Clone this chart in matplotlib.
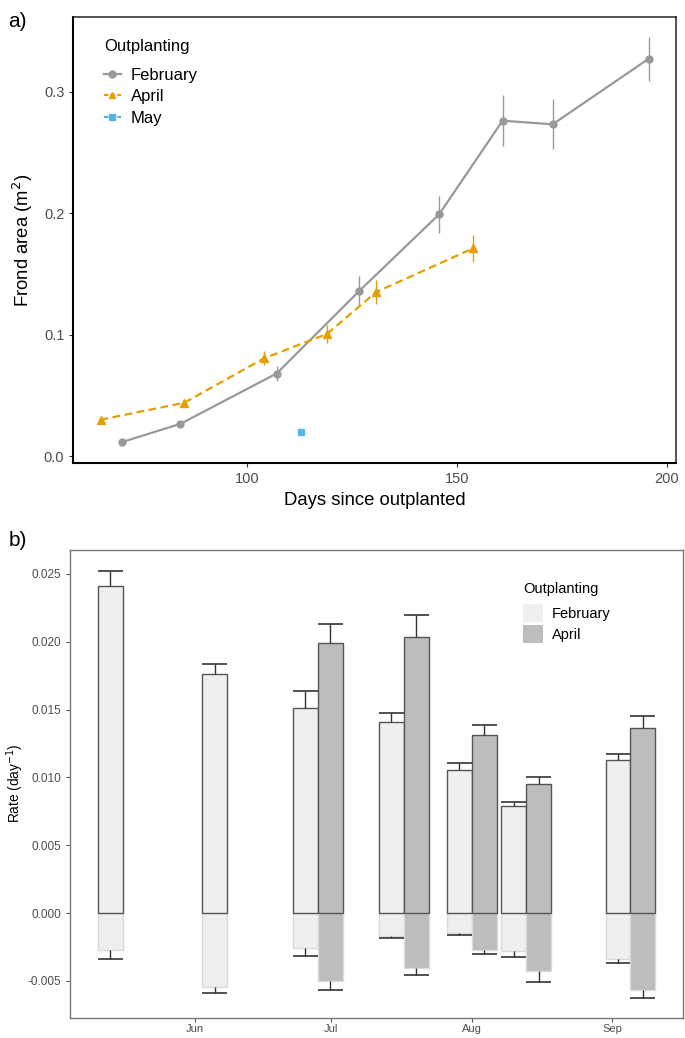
import numpy as np
import matplotlib
matplotlib.use("Agg")
import matplotlib.pyplot as plt
import matplotlib.dates as mdates
from matplotlib.lines import Line2D
from matplotlib.patches import Patch

plt.rcParams['font.family'] = ['Liberation Sans', 'DejaVu Sans']

# ---- panel a data: frond area by days since outplanting ----
feb_days = [70.2, 84.2, 107.1, 126.8, 145.8, 160.9, 172.8, 195.7]
feb_area = [0.0115, 0.0266, 0.068, 0.136, 0.199, 0.276, 0.273, 0.327]
feb_se = [0.001, 0.0012, 0.006, 0.012, 0.015, 0.021, 0.0205, 0.018]

apr_days = [65.2, 85.1, 104.1, 119.1, 130.8, 153.9]
apr_area = [0.030, 0.0439, 0.0805, 0.1006, 0.135, 0.171]
apr_se = [0.0018, 0.002, 0.0057, 0.0073, 0.010, 0.011]

may_days = [113.0]
may_area = [0.020]
may_se = [0.002]

# ---- panel b data: growth (+) and loss (-) rates per sampling ----
sample_dates = ["2018-05-16", "2018-06-08", "2018-06-28", "2018-07-17",
                "2018-08-01", "2018-08-13", "2018-09-05"]
feb_growth = [0.0241, 0.01765, 0.0151, 0.0141, 0.01056, 0.00787, 0.0113]
feb_growth_se = [0.00114, 0.0007, 0.00125, 0.00065, 0.0005, 0.0003, 0.00046]
feb_loss = [-0.00275, -0.00544, -0.00257, -0.00168, -0.00147, -0.0028, -0.00338]
feb_loss_se = [0.00063, 0.00044, 0.00057, 0.00017, 0.00017, 0.00041, 0.0003]
apr_growth = [np.nan, np.nan, 0.01993, 0.02032, 0.01311, 0.00954, 0.01363]
apr_growth_se = [np.nan, np.nan, 0.00141, 0.00168, 0.00076, 0.00048, 0.00093]
apr_loss = [np.nan, np.nan, -0.0050, -0.00407, -0.0027, -0.00426, -0.00564]
apr_loss_se = [np.nan, np.nan, 0.0007, 0.00047, 0.0003, 0.00086, 0.0006]

C_FEB = '#999999'
C_APR = '#E69F00'
C_MAY = '#56B4E9'
F_FEB = '#EFEFEF'
F_APR = '#BDBDBD'

fig = plt.figure(figsize=(6.85, 10.38), dpi=100)

# ================= panel a =================
ax = fig.add_axes([0.107, 0.5535, 0.880, 0.4306])
ax.errorbar(feb_days, feb_area, yerr=feb_se, color=C_FEB, lw=1.6, marker='o',
            ms=5, elinewidth=1.0, capsize=0, label='February')
ax.errorbar(apr_days, apr_area, yerr=apr_se, color=C_APR, lw=1.6, ls=(0, (3.5, 2)),
            marker='^', ms=6, elinewidth=1.0, capsize=0, label='April')
ax.errorbar(may_days, may_area, yerr=may_se, color=C_MAY, lw=1.6, marker='s',
            ms=4.5, elinewidth=1.0, capsize=0, label='May')

ax.set_xticks([100, 150, 200])
ax.set_xticks([75, 125, 175], minor=True)
ax.set_yticks([0.0, 0.1, 0.2, 0.3])
ax.yaxis.set_major_formatter(matplotlib.ticker.FormatStrFormatter('%.1f'))
ax.tick_params(which='minor', length=0)
ax.tick_params(which='major', length=3, color='#333333', labelsize=10.5,
               labelcolor='#4d4d4d')
ax.set_xlim(58.7, 202.2)
ax.set_ylim(-0.006, 0.3617)
for s in ['left', 'bottom']:
    ax.spines[s].set_linewidth(1.5)
    ax.spines[s].set_color('black')
for s in ['top', 'right']:
    ax.spines[s].set_linewidth(1.1)
    ax.spines[s].set_color('#222222')
ax.set_xlabel('Days since outplanted', fontsize=13.3, labelpad=4)
ax.set_ylabel('Frond area (m$^2$)', fontsize=13.3, labelpad=6)

handles = [Line2D([], [], color=C_FEB, lw=1.6, marker='o', ms=5),
           Line2D([], [], color=C_APR, lw=1.6, ls=(0, (2, 1)), marker='^', ms=5),
           Line2D([], [], color=C_MAY, lw=1.6, ls=(0, (2, 1)), marker='s', ms=4.5)]
leg = ax.legend(handles, ['February', 'April', 'May'], title='Outplanting',
                loc='upper left', bbox_to_anchor=(0.026, 0.984), frameon=False,
                fontsize=12, title_fontsize=12, handlelength=1.0,
                handletextpad=0.6, labelspacing=0.4)
leg._legend_box.align = 'left'
leg._legend_box.sep = 10

fig.text(0.012, 0.988, 'a)', fontsize=15, va='top', ha='left')

# ================= panel b =================
bx = fig.add_axes([0.1022, 0.0195, 0.8953, 0.4511])
xc = mdates.datestr2num(sample_dates)
bw = 5.5
x_feb = xc - bw / 2
x_apr = xc + bw / 2

def draw_bars(x, vals, err, fill, edge, down):
    vals = np.asarray(vals, float)
    err = np.asarray(err, float)
    ok = ~np.isnan(vals)
    x, vals, err = x[ok], vals[ok], err[ok]
    bx.bar(x, vals, width=bw, color=fill, edgecolor=edge, linewidth=1.0, zorder=2)
    tip = vals - err if down else vals + err
    bx.vlines(x, vals, tip, color='#333333', lw=1.0, zorder=3)
    bx.hlines(tip, x - bw / 2, x + bw / 2, color='#333333', lw=1.2, zorder=3)

draw_bars(x_feb, feb_loss, feb_loss_se, F_FEB, '#DADADA', True)
draw_bars(x_apr, apr_loss, apr_loss_se, F_APR, '#DADADA', True)
draw_bars(x_feb, feb_growth, feb_growth_se, F_FEB, '#555555', False)
draw_bars(x_apr, apr_growth, apr_growth_se, F_APR, '#555555', False)

bx.set_ylim(-0.00772, 0.0268)
bx.set_yticks([-0.005, 0.0, 0.005, 0.010, 0.015, 0.020, 0.025])
bx.yaxis.set_major_formatter(matplotlib.ticker.FormatStrFormatter('%.3f'))
bx.margins(x=0.05)
bx.xaxis.set_major_locator(mdates.MonthLocator(bymonth=[6, 7, 8, 9]))
bx.xaxis.set_major_formatter(mdates.DateFormatter('%b'))
bx.tick_params(length=3, color='#555555', labelsize=8.5, labelcolor='#4d4d4d')
bx.tick_params(axis='x', pad=1.5, labelsize=8)
for s in bx.spines.values():
    s.set_color('#777777')
    s.set_linewidth(1.0)
bx.set_ylabel('Rate (day$^{-1}$)', fontsize=9.8)
bx.yaxis.set_label_coords(-0.072, 0.5)

leg2 = bx.legend([Patch(facecolor=F_FEB, edgecolor='none'),
                  Patch(facecolor=F_APR, edgecolor='none')],
                 ['February', 'April'], title='Outplanting', loc='upper left',
                 bbox_to_anchor=(0.717, 0.959), frameon=False, fontsize=10.5,
                 title_fontsize=10.5, handlelength=1.4, handleheight=1.5,
                 handletextpad=0.6, labelspacing=0.2)
leg2._legend_box.align = 'left'
leg2._legend_box.sep = 6

fig.text(0.012, 0.488, 'b)', fontsize=15, va='top', ha='left')

fig.savefig('out.png', dpi=100)
